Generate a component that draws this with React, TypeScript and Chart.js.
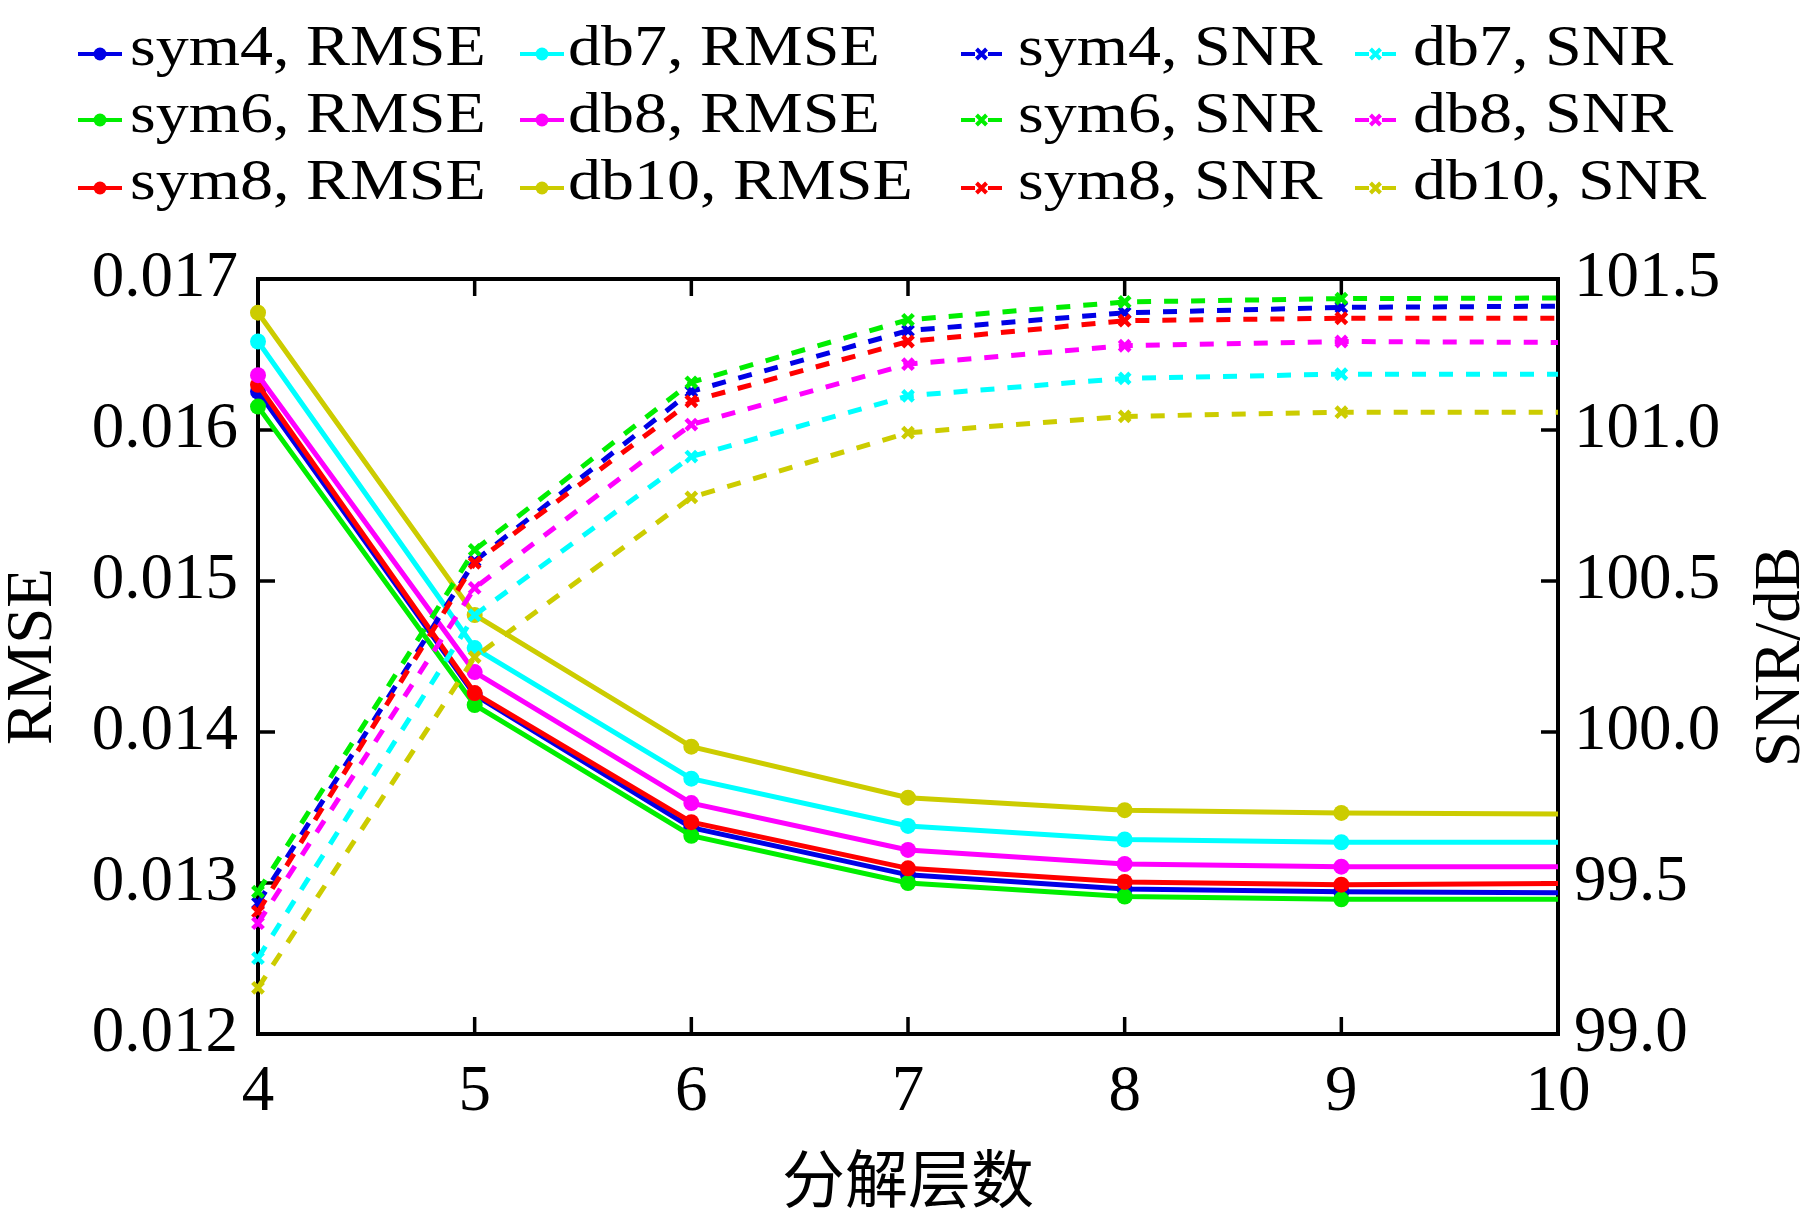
import React, { useEffect, useRef } from 'react';
import { Chart, registerables } from 'chart.js';

Chart.register(...registerables);

// decomposition levels
const levels = [4, 5, 6, 7, 8, 9, 10];

// RMSE per wavelet
const rmseSym4 = [0.016255, 0.014245, 0.013367, 0.013054, 0.01296, 0.012942, 0.012935];
const rmseSym6 = [0.016155, 0.014179, 0.013313, 0.013, 0.01291, 0.012892, 0.012892];
const rmseSym8 = [0.016299, 0.014258, 0.013403, 0.013097, 0.013007, 0.012989, 0.012996];
const rmseDb7 = [0.016586, 0.014556, 0.013691, 0.013378, 0.013288, 0.01327, 0.01327];
const rmseDb8 = [0.016363, 0.014397, 0.013529, 0.013219, 0.013126, 0.013108, 0.013108];
const rmseDb10 = [0.016777, 0.014775, 0.013903, 0.013565, 0.013482, 0.013464, 0.013457];

// SNR (dB) per wavelet
const snrSym4 = [99.433, 100.566, 101.128, 101.329, 101.388, 101.406, 101.41];
const snrSym6 = [99.471, 100.603, 101.158, 101.365, 101.424, 101.435, 101.437];
const snrSym8 = [99.405, 100.56, 101.095, 101.293, 101.362, 101.37, 101.37];
const snrDb7 = [99.251, 100.387, 100.912, 101.113, 101.171, 101.185, 101.185];
const snrDb8 = [99.367, 100.477, 101.018, 101.218, 101.279, 101.293, 101.29];
const snrDb10 = [99.153, 100.248, 100.777, 100.991, 101.045, 101.059, 101.059];

const rmseTicks = [0.012, 0.013, 0.014, 0.015, 0.016, 0.017];
const snrTicks = [99.0, 99.5, 100.0, 100.5, 101.0, 101.5];

const names = ['sym4', 'sym6', 'sym8', 'db7', 'db8', 'db10'];
const colors = ['#0000e6', '#00ee00', '#ff0000', '#00ffff', '#ff00ff', '#cccc00'];
const rmseSeries = [rmseSym4, rmseSym6, rmseSym8, rmseDb7, rmseDb8, rmseDb10];
const snrSeries = [snrSym4, snrSym6, snrSym8, snrDb7, snrDb8, snrDb10];

const SERIF = '"Liberation Serif", "Times New Roman", Times, serif';
const CJK = '"Noto Sans CJK SC", sans-serif';

const toPoints = (vals: number[]) => levels.map((x, i) => ({ x, y: vals[i] }));
// no marker drawn at the right edge
const radii = (r: number) => levels.map((l) => (l === 10 ? 0 : r));

const framePlugin = {
  id: 'frame',
  beforeDatasetsDraw(chart: any) {
    const { ctx, chartArea: a, scales } = chart;
    const tl = 17;
    ctx.save();
    ctx.strokeStyle = '#000';
    ctx.lineWidth = 3.5;
    ctx.beginPath();
    scales.x.ticks.forEach((t: any) => {
      const px = scales.x.getPixelForValue(t.value);
      ctx.moveTo(px, a.bottom);
      ctx.lineTo(px, a.bottom - tl);
      ctx.moveTo(px, a.top);
      ctx.lineTo(px, a.top + tl);
    });
    scales.y.ticks.forEach((t: any) => {
      const py = scales.y.getPixelForValue(t.value);
      ctx.moveTo(a.left, py);
      ctx.lineTo(a.left + tl, py);
    });
    scales.y1.ticks.forEach((t: any) => {
      const py = scales.y1.getPixelForValue(t.value);
      ctx.moveTo(a.right, py);
      ctx.lineTo(a.right - tl, py);
    });
    ctx.stroke();
    ctx.lineWidth = 4;
    ctx.strokeRect(a.left, a.top, a.right - a.left, a.bottom - a.top);
    ctx.restore();
  },
  afterDraw(chart: any) {
    const { ctx } = chart;
    const lineX = [78, 520, 961, 1355];
    const textX = [130, 568, 1018, 1413];
    const rowY = [54, 120, 188];
    const baseY = [65, 132, 199];
    ctx.save();
    chart.data.datasets.forEach((ds: any, i: number) => {
      const col = Math.floor(i / 3);
      const row = i % 3;
      const x0 = lineX[col];
      const y = rowY[row];
      ctx.strokeStyle = ds.borderColor;
      ctx.fillStyle = ds.borderColor;
      ctx.lineWidth = 4;
      ctx.setLineDash([]);
      if (ds.yAxisID === 'y') {
        ctx.beginPath();
        ctx.moveTo(x0, y);
        ctx.lineTo(x0 + 44, y);
        ctx.stroke();
        ctx.beginPath();
        ctx.arc(x0 + 22, y, 6.5, 0, Math.PI * 2);
        ctx.fill();
      } else {
        ctx.beginPath();
        ctx.moveTo(x0, y);
        ctx.lineTo(x0 + 14, y);
        ctx.moveTo(x0 + 27, y);
        ctx.lineTo(x0 + 41, y);
        const cx = x0 + 20.5;
        const s = 5;
        ctx.moveTo(cx - s, y - s);
        ctx.lineTo(cx + s, y + s);
        ctx.moveTo(cx - s, y + s);
        ctx.lineTo(cx + s, y - s);
        ctx.stroke();
      }
      ctx.save();
      ctx.fillStyle = '#000';
      ctx.font = `66px ${SERIF}`;
      ctx.textAlign = 'left';
      ctx.textBaseline = 'alphabetic';
      ctx.translate(textX[col], baseY[row]);
      ctx.scale(1, 0.85);
      ctx.fillText(ds.label, 0, 0);
      ctx.restore();
    });

    // right axis title, reading bottom to top
    ctx.fillStyle = '#000';
    ctx.font = `65px ${SERIF}`;
    ctx.textAlign = 'center';
    ctx.textBaseline = 'middle';
    ctx.translate(1782, 657);
    ctx.rotate(-Math.PI / 2);
    ctx.fillText('SNR/dB', 0, 0);
    ctx.restore();
  },
};

function App() {
  const chartRef = useRef<HTMLCanvasElement | null>(null);
  const chartInstance = useRef<Chart | null>(null);

  useEffect(() => {
    document.body.style.margin = '0';
    let cancelled = false;

    const build = () => {
      if (cancelled) return;
      if (chartInstance.current) {
        chartInstance.current.destroy();
      }
      const ctx = chartRef.current?.getContext('2d');
      if (!ctx) return;

      const n = names.length;
      const rmseSets = names.map((name, i) => ({
        label: `${name}, RMSE`,
        data: toPoints(rmseSeries[i]),
        yAxisID: 'y',
        borderColor: colors[i],
        backgroundColor: colors[i],
        borderWidth: 5,
        pointStyle: 'circle',
        pointRadius: radii(8),
        pointBorderWidth: 0,
        pointBackgroundColor: colors[i],
        tension: 0,
        clip: false as const,
        order: 2 * n - i,
      }));
      const snrSets = names.map((name, i) => ({
        label: `${name}, SNR`,
        data: toPoints(snrSeries[i]),
        yAxisID: 'y1',
        borderColor: colors[i],
        backgroundColor: colors[i],
        borderWidth: 5,
        borderDash: [14, 13],
        pointStyle: 'crossRot',
        pointRadius: radii(7.5),
        pointBorderWidth: 4.5,
        pointBorderColor: colors[i],
        tension: 0,
        clip: false as const,
        order: n - i,
      }));

      chartInstance.current = new Chart(ctx, {
        type: 'line',
        data: { datasets: [...rmseSets, ...snrSets] as any },
        options: {
          responsive: true,
          maintainAspectRatio: false,
          animation: false,
          events: [],
          layout: { padding: { top: 279, left: 0, right: 0, bottom: 0 } },
          plugins: {
            legend: { display: false },
            tooltip: { enabled: false },
          },
          scales: {
            x: {
              type: 'linear',
              min: 4,
              max: 10,
              afterFit: (s: any) => {
                s.height = 194;
              },
              grid: { display: false, drawTicks: false },
              border: { display: false },
              ticks: {
                stepSize: 1,
                autoSkip: false,
                maxRotation: 0,
                padding: 26,
                color: '#000',
                font: { family: SERIF, size: 65, lineHeight: 1 },
              },
              title: {
                display: true,
                text: '分解层数',
                color: '#000',
                padding: { top: 0, bottom: 18 },
                font: { family: CJK, size: 63, lineHeight: 1 },
              },
            },
            y: {
              type: 'linear',
              position: 'left',
              min: rmseTicks[0],
              max: rmseTicks[rmseTicks.length - 1],
              afterFit: (s: any) => {
                s.width = 258;
              },
              afterBuildTicks: (s: any) => {
                s.ticks = rmseTicks.map((v) => ({ value: v }));
              },
              grid: { display: false, drawTicks: false },
              border: { display: false },
              ticks: {
                padding: 20,
                color: '#000',
                font: { family: SERIF, size: 65, lineHeight: 1 },
                callback: (v: any) => Number(v).toFixed(3),
              },
              title: {
                display: true,
                text: 'RMSE',
                color: '#000',
                padding: { top: 1, bottom: 0 },
                font: { family: SERIF, size: 65, lineHeight: 1 },
              },
            },
            y1: {
              type: 'linear',
              position: 'right',
              min: snrTicks[0],
              max: snrTicks[snrTicks.length - 1],
              afterFit: (s: any) => {
                s.width = 261;
              },
              afterBuildTicks: (s: any) => {
                s.ticks = snrTicks.map((v) => ({ value: v }));
              },
              grid: { display: false, drawTicks: false },
              border: { display: false },
              ticks: {
                padding: 16,
                color: '#000',
                font: { family: SERIF, size: 65, lineHeight: 1 },
                callback: (v: any) => Number(v).toFixed(1),
              },
            },
          },
        },
        plugins: [framePlugin],
      });
    };

    const fonts = (document as any).fonts;
    if (fonts && fonts.load) {
      Promise.all([
        fonts.load('65px "Liberation Serif"'),
        fonts.load('63px "Noto Sans CJK SC"', '分解层数'),
      ])
        .catch(() => undefined)
        .then(build);
    } else {
      build();
    }

    return () => {
      cancelled = true;
      if (chartInstance.current) {
        chartInstance.current.destroy();
        chartInstance.current = null;
      }
    };
  }, []);

  return (
    <div style={{ width: '1819px', height: '1228px', position: 'relative' }}>
      <canvas ref={chartRef} />
    </div>
  );
}

export default App;
